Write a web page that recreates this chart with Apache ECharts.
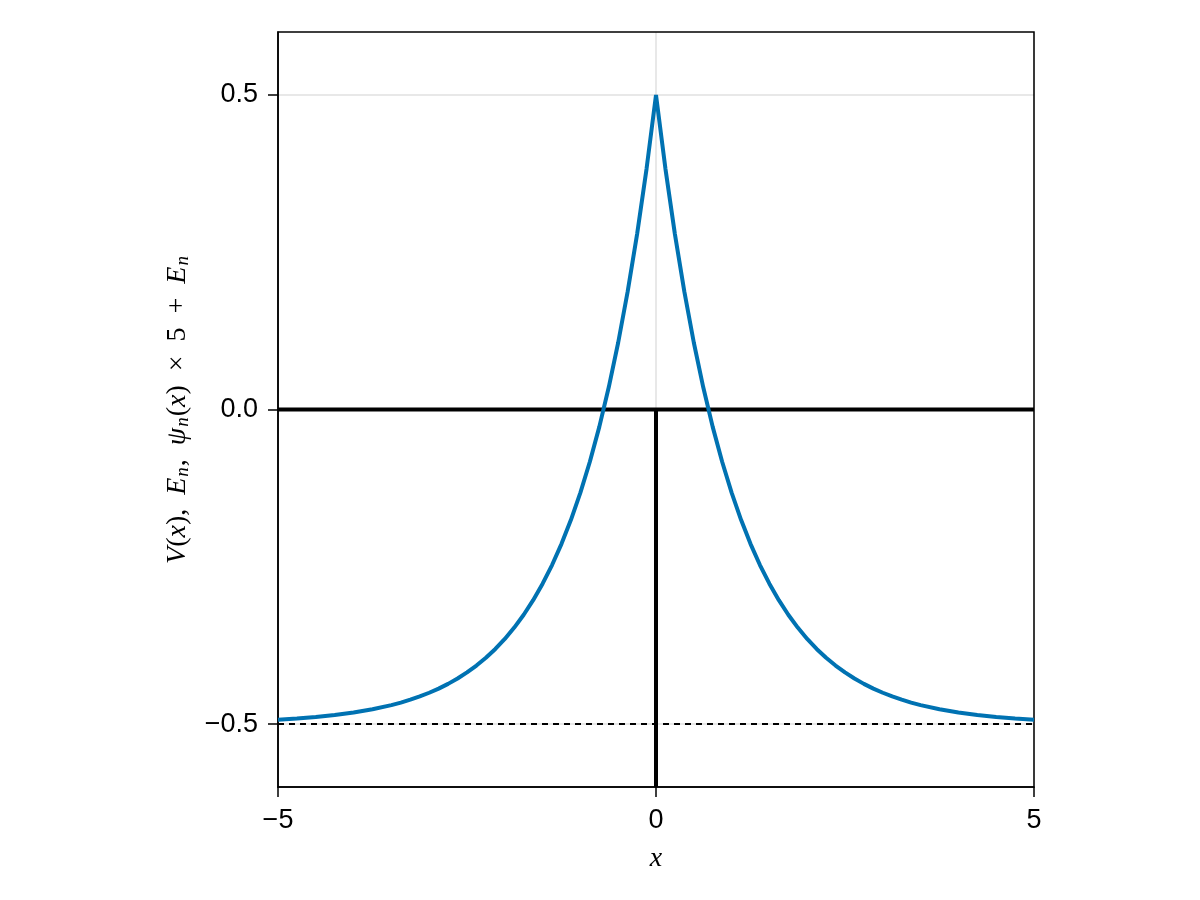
<!DOCTYPE html>
<html>
<head>
<meta charset="utf-8">
<script src="https://cdn.jsdelivr.net/npm/echarts@6/dist/echarts.min.js"></script>
<style>html,body{margin:0;padding:0;background:#fff}#c{width:1200px;height:900px}</style>
</head>
<body>
<div id="c"></div>
<script>
// Data
var xs = [-5,-4.75,-4.5,-4.25,-4,-3.75,-3.5,-3.375,-3.25,-3.125,-3,-2.875,-2.75,-2.625,-2.5,-2.375,-2.25,-2.125,-2,-1.875,-1.75,-1.625,-1.5,-1.375,-1.25,-1.125,-1,-0.875,-0.75,-0.625,-0.5,-0.375,-0.25,-0.125,0,
          0.125,0.25,0.375,0.5,0.625,0.75,0.875,1,1.125,1.25,1.375,1.5,1.625,1.75,1.875,2,2.125,2.25,2.375,2.5,2.625,2.75,2.875,3,3.125,3.25,3.375,3.5,3.75,4,4.25,4.5,4.75,5];
var potential = [-0.4933,-0.4913,-0.4889,-0.4857,-0.4817,-0.4765,-0.4698,-0.4658,-0.4612,-0.4561,-0.4502,-0.4436,-0.4361,-0.4276,-0.4179,-0.4070,-0.3946,-0.3806,-0.3647,-0.3466,-0.3262,-0.3031,-0.2769,-0.2472,-0.2135,-0.1753,-0.1321,-0.0831,-0.0276,0.0353,0.1065,0.1873,0.2788,0.3825,0.5,
          0.3825,0.2788,0.1873,0.1065,0.0353,-0.0276,-0.0831,-0.1321,-0.1753,-0.2135,-0.2472,-0.2769,-0.3031,-0.3262,-0.3466,-0.3647,-0.3806,-0.3946,-0.4070,-0.4179,-0.4276,-0.4361,-0.4436,-0.4502,-0.4561,-0.4612,-0.4658,-0.4698,-0.4765,-0.4817,-0.4857,-0.4889,-0.4913,-0.4933];
var energyLevel = -0.5;
var wavePlateauX = [-5, 5];
var wavePlateauY = [0, 0];
var waveSpikeX = [0, 0];
var waveSpikeY = [0, -0.6];
var xTicks = [-5, 0, 5];
var yTicks = [-0.5, 0, 0.5];
var xRange = [-5, 5];
var yRange = [-0.6, 0.6];

function zip(a, b) { return a.map(function (v, i) { return [v, b[i]]; }); }
function fmt(v, d) { var s = d ? v.toFixed(d) : String(v); return s.replace('-', '\u2212'); }

var chart = echarts.init(document.getElementById('c'), null, {renderer: 'canvas'});
var labelFont = {fontFamily: 'Liberation Sans', fontSize: 27, color: '#000'};
var mathRich = {
  i: {fontFamily: 'Liberation Serif', fontStyle: 'italic', fontSize: 28, color: '#000'},
  s: {fontFamily: 'Liberation Serif', fontStyle: 'italic', fontSize: 19, color: '#000', padding: [10, 1, 0, 1]},
  r: {fontFamily: 'Liberation Serif', fontSize: 28, color: '#000'}
};

chart.setOption({
  animation: false,
  backgroundColor: '#fff',
  grid: {left: 278, right: 166, top: 32, bottom: 113, show: true, borderColor: '#000', borderWidth: 1.5, backgroundColor: 'transparent'},
  xAxis: {
    type: 'value', min: xRange[0], max: xRange[1], interval: 5,
    name: '{i|x}', nameLocation: 'middle', nameGap: 58,
    nameTextStyle: {rich: mathRich},
    axisLine: {show: true, onZero: false, lineStyle: {color: '#000', width: 1.5}},
    axisTick: {show: true, length: 10, lineStyle: {color: '#000', width: 1.5}, customValues: xTicks},
    axisLabel: Object.assign({margin: 20, customValues: xTicks, formatter: function (v) { return fmt(v, 0); }}, labelFont),
    splitLine: {show: true, lineStyle: {color: 'rgba(0,0,0,0.12)', width: 1.5}}
  },
  yAxis: {
    type: 'value', min: yRange[0], max: yRange[1],
    name: '{i|V}{r|(}{i|x}{r|),  }{i|E}{s|n}{r|,  }{i|ψ}{s|n}{r|(}{i|x}{r|)  ×  5  +  }{i|E}{s|n}',
    nameLocation: 'middle', nameGap: 86, nameRotate: 90,
    nameTextStyle: {rich: mathRich},
    axisLine: {show: true, onZero: false, lineStyle: {color: '#000', width: 1.5}},
    axisTick: {show: true, length: 10, lineStyle: {color: '#000', width: 1.5}, customValues: yTicks},
    axisLabel: Object.assign({margin: 20, customValues: yTicks, formatter: function (v) { return fmt(v, 1); }}, labelFont),
    splitLine: {show: true, lineStyle: {color: 'rgba(0,0,0,0.12)', width: 1.5}}
  },
  series: [
    {type: 'line', data: [[xRange[0], energyLevel], [xRange[1], energyLevel]], symbol: 'none', z: 2,
     lineStyle: {color: '#000', width: 2, type: [6, 5]}},
    {type: 'line', data: zip(wavePlateauX, wavePlateauY), symbol: 'none', z: 3,
     lineStyle: {color: '#000', width: 4}},
    {type: 'line', data: zip(waveSpikeX, waveSpikeY), symbol: 'none', z: 3,
     lineStyle: {color: '#000', width: 4}},
    {type: 'line', data: zip(xs, potential), symbol: 'none', z: 4,
     lineStyle: {color: '#0072B2', width: 4}}
  ]
});
</script>
</body>
</html>
